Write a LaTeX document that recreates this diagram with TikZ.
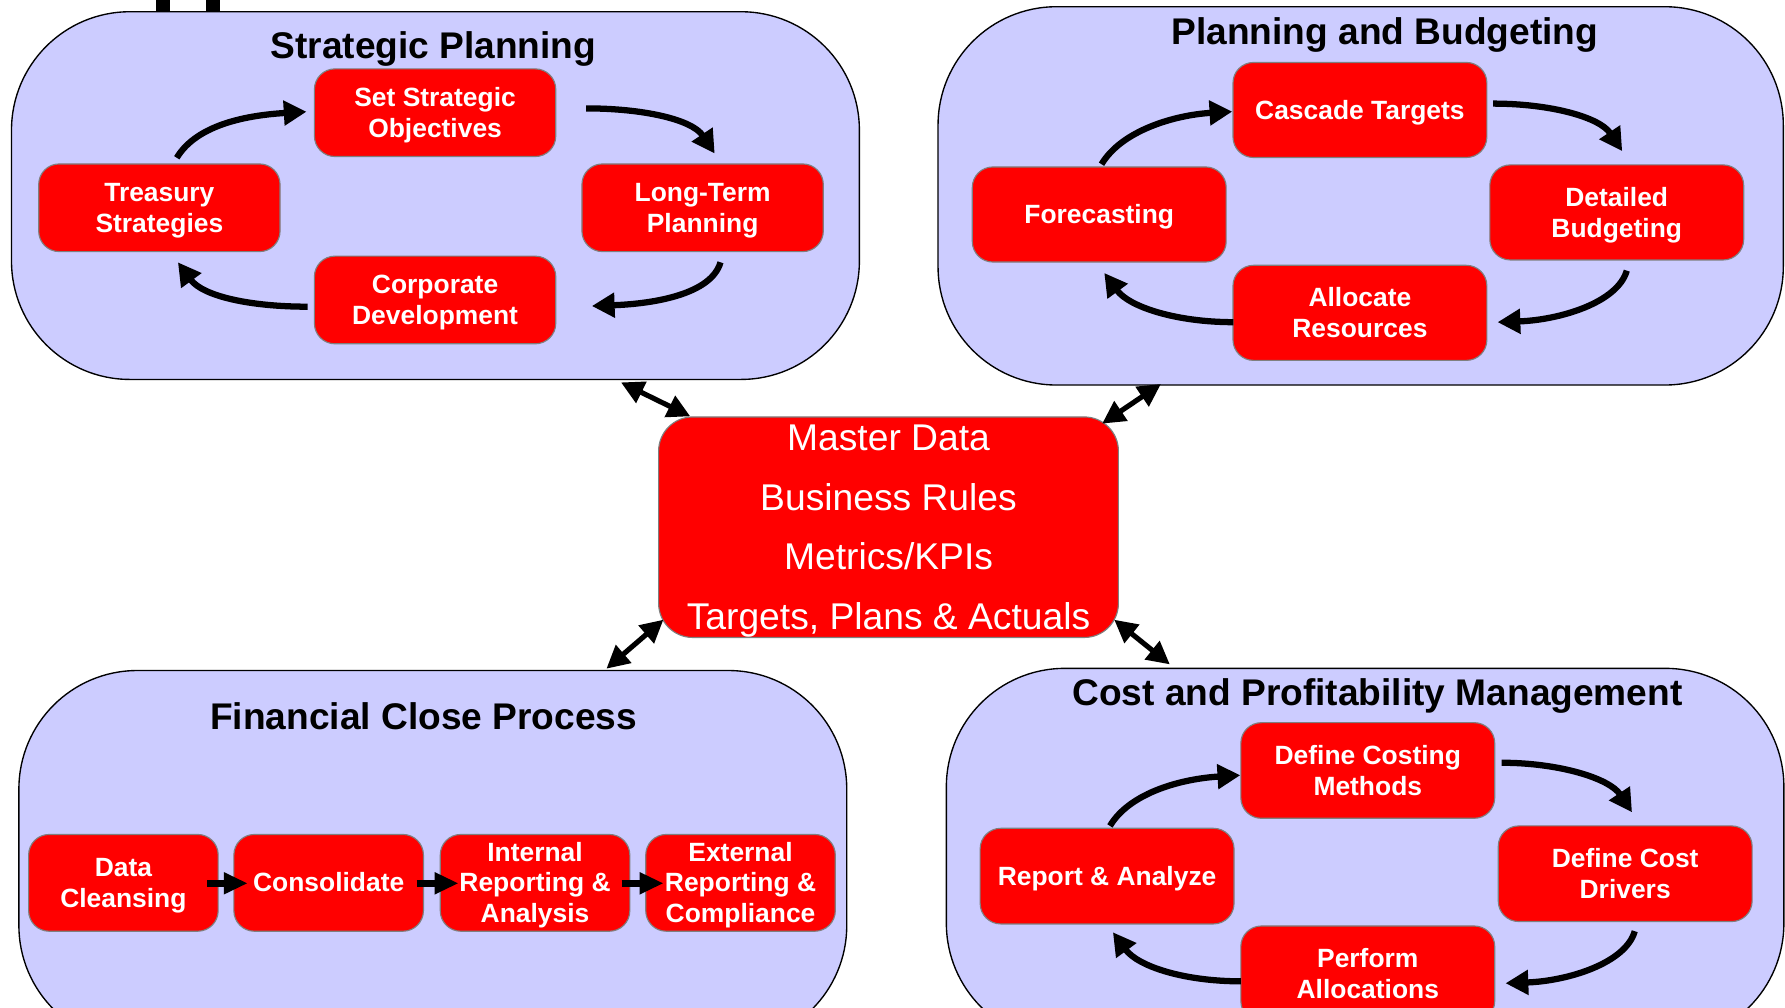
\documentclass[tikz,border=0pt]{standalone}
\usepackage{fontspec}
\setmainfont{Liberation Sans}
\usetikzlibrary{arrows.meta,calc}
\definecolor{panelfill}{HTML}{CCCCFF}
\definecolor{stepred}{HTML}{FF0000}
\definecolor{stepedge}{HTML}{7F7F7F}
% full line box (ascent + descent) so text is centred like a text frame
\newcommand{\linebox}{\rule[-0.212em]{0pt}{1.117em}}

\begin{document}
\begin{tikzpicture}[x=0.5pt,y=-0.5pt,
  panel/.style={draw=black,line width=0.6pt,fill=panelfill,rounded corners=52pt,inner sep=0pt},
  paneltitle/.style={font=\fontsize{16.3pt}{19pt}\selectfont\bfseries,anchor=base,inner sep=0pt},
  stepbox/.style={draw=stepedge,line width=0.5pt,fill=stepred,rounded corners=9pt,text=white,
    align=center,font=\fontsize{11.6pt}{13.6pt}\selectfont\bfseries,inner sep=0pt,
    execute at begin node=\linebox,execute at end node=\linebox},
  spstep/.style={stepbox,minimum width=106pt,minimum height=38.5pt},
  pbstep/.style={stepbox,minimum width=111.5pt,minimum height=41.75pt},
  fcstep/.style={stepbox,minimum width=83.25pt,minimum height=42.5pt},
  cpstep/.style={stepbox,minimum width=111.5pt,minimum height=42pt},
  looparrow/.style={line width=2.75pt,-{Triangle[length=10pt,width=10.5pt]}},
  duplex/.style={line width=2.25pt,{Triangle[length=10pt,width=10pt]}-{Triangle[length=10pt,width=10pt]}},
  chainarrow/.style={line width=3.25pt,-{Triangle[length=10.5pt,width=9pt]}},
]
\path[use as bounding box,clip] (0,0) rectangle (1568,885);

% marks above the first panel
\fill (137,0) rectangle (149.3,10.2);
\fill (181,0) rectangle (193.3,10.2);

% the four process panels
\node[panel,minimum width=372.4pt,minimum height=161.5pt] (sp) at (382.5,171.8) {};
\node[panel,minimum width=371.25pt,minimum height=166.15pt] (pb) at (1195.25,172.05) {};
\node[panel,minimum width=363.6pt,minimum height=164pt] (fc) at (380.2,753) {};
\node[panel,minimum width=367.85pt,minimum height=163.95pt] (cpm) at (1199.15,751.05) {};

\node[paneltitle] (sptitle) at (380.7,51.2) {Strategic Planning};
\node[paneltitle] (pbtitle) at (1216.5,39.5) {Planning and Budgeting};
\node[paneltitle] (fctitle) at (372.2,640.5) {Financial Close Process};
\node[paneltitle] (cpmtitle) at (1210,619.3) {Cost and Profitability Management};

% shared core
\node[stepbox,rounded corners=15pt,minimum width=201.95pt,minimum height=96.2pt,
  font=\fontsize{16.35pt}{26.2pt}\selectfont] (master) at (780.5,463.1)
  {\linebox Master Data\\Business Rules\\Metrics/KPIs\\Targets, Plans \& Actuals};

% strategic planning cycle
\node[spstep] (set) at (382.2,99) {\linebox Set Strategic\\Objectives};
\node[spstep] (treasury) at (140,182.5) {\linebox Treasury\\Strategies};
\node[spstep] (longterm) at (617.2,182.5) {\linebox Long-Term\\Planning};
\node[spstep] (corpdev) at (382.2,263.5) {\linebox Corporate\\Development};

\draw[looparrow] ($(treasury.north)+(15.3,-4.9)$) .. controls +(18,-30) and +(-50,3) .. ($(set.west)+(-6.4,-0.9)$);
\draw[looparrow] ($(set.east)+(26.1,-3.8)$) .. controls +(50,0) and +(-20,-30) .. ($(longterm.north)+(10.6,-8.7)$);
\draw[looparrow] ($(longterm.south)+(15.7,8.9)$) .. controls +(-8,28) and +(55,-2) .. ($(corpdev.east)+(31.2,5.3)$);
\draw[looparrow] ($(corpdev.west)+(-5.4,5.9)$) .. controls +(-50,0) and +(22,30) .. ($(treasury.south)+(16.3,8.9)$);

% planning and budgeting cycle
\node[pbstep] (cascade) at (1194.6,96.6) {Cascade Targets};
\node[pbstep] (forecast) at (965.6,188.4) {Forecasting};
\node[pbstep] (detailed) at (1420.2,186.6) {\linebox Detailed\\Budgeting};
\node[pbstep] (allocate) at (1194.6,274.8) {\linebox Allocate\\Resources};

\draw[looparrow] ($(forecast.north)+(2,-1.9)$) .. controls +(18,-30) and +(-50,3) .. ($(cascade.west)+(-0.1,1.4)$);
\draw[looparrow] ($(cascade.east)+(4.9,-5.6)$) .. controls +(50,0) and +(-20,-30) .. ($(detailed.north)+(4.8,-11.6)$);
\draw[looparrow] ($(detailed.south)+(8.8,8.9)$) .. controls +(-8,28) and +(55,-2) .. ($(allocate.east)+(8.9,8.2)$);
\draw[looparrow] ($(allocate.west)+(0.9,8.2)$) .. controls +(-50,0) and +(22,30) .. ($(forecast.south)+(4.4,9.1)$);

% financial close chain
\node[fcstep] (cleanse) at (108.4,775.5) {\linebox Data\\Cleansing};
\node[fcstep] (consol) at (288.7,775.5) {Consolidate};
\node[fcstep] (internal) at (470,775.5) {\linebox Internal\\Reporting \&\\Analysis};
\node[fcstep] (external) at (650.5,775.5) {\linebox External\\Reporting \&\\Compliance};

\draw[chainarrow] ($(cleanse.east)+(-10,0.4)$) -- ($(consol.west)+(12.7,0.4)$);
\draw[chainarrow] ($(consol.east)+(-6.5,0.4)$) -- ($(internal.west)+(16.6,0.4)$);
\draw[chainarrow] ($(internal.east)+(-7.6,0.4)$) -- ($(external.west)+(16.2,0.4)$);

% cost and profitability cycle
\node[cpstep] (costing) at (1201.5,676.8) {\linebox Define Costing\\Methods};
\node[cpstep] (report) at (972.5,769.6) {Report \& Analyze};
\node[cpstep] (drivers) at (1427.6,767.5) {\linebox Define Cost\\Drivers};
\node[cpstep] (perform) at (1201.5,855.4) {\linebox Perform\\Allocations};

\draw[looparrow] ($(report.north)+(2.5,-1.6)$) .. controls +(18,-30) and +(-50,3) .. ($(costing.west)+(0,4.2)$);
\draw[looparrow] ($(costing.east)+(5.5,-6.8)$) .. controls +(50,0) and +(-20,-30) .. ($(drivers.north)+(6,-11.5)$);
\draw[looparrow] ($(drivers.south)+(8.4,8)$) .. controls +(-8,28) and +(55,-2) .. ($(perform.east)+(9,8.3)$);
\draw[looparrow] ($(perform.west)+(0.5,6.6)$) .. controls +(-50,0) and +(22,30) .. ($(report.south)+(5.1,6.8)$);

% links between the core and the panels
\draw[duplex] ($(sp.south west)+(536,2)$) -- ($(master.north west)+(28.3,0)$);
\draw[duplex] ($(pb.south west)+(196.4,-1.5)$) -- ($(master.north east)+(-14.8,6.4)$);
\draw[duplex] ($(master.south west)+(4.7,-16.1)$) -- ($(fc.north west)+(516.7,-1)$);
\draw[duplex] ($(master.south east)+(-4.2,-16.1)$) -- ($(cpm.north west)+(196.9,-2.9)$);
\end{tikzpicture}
\end{document}
